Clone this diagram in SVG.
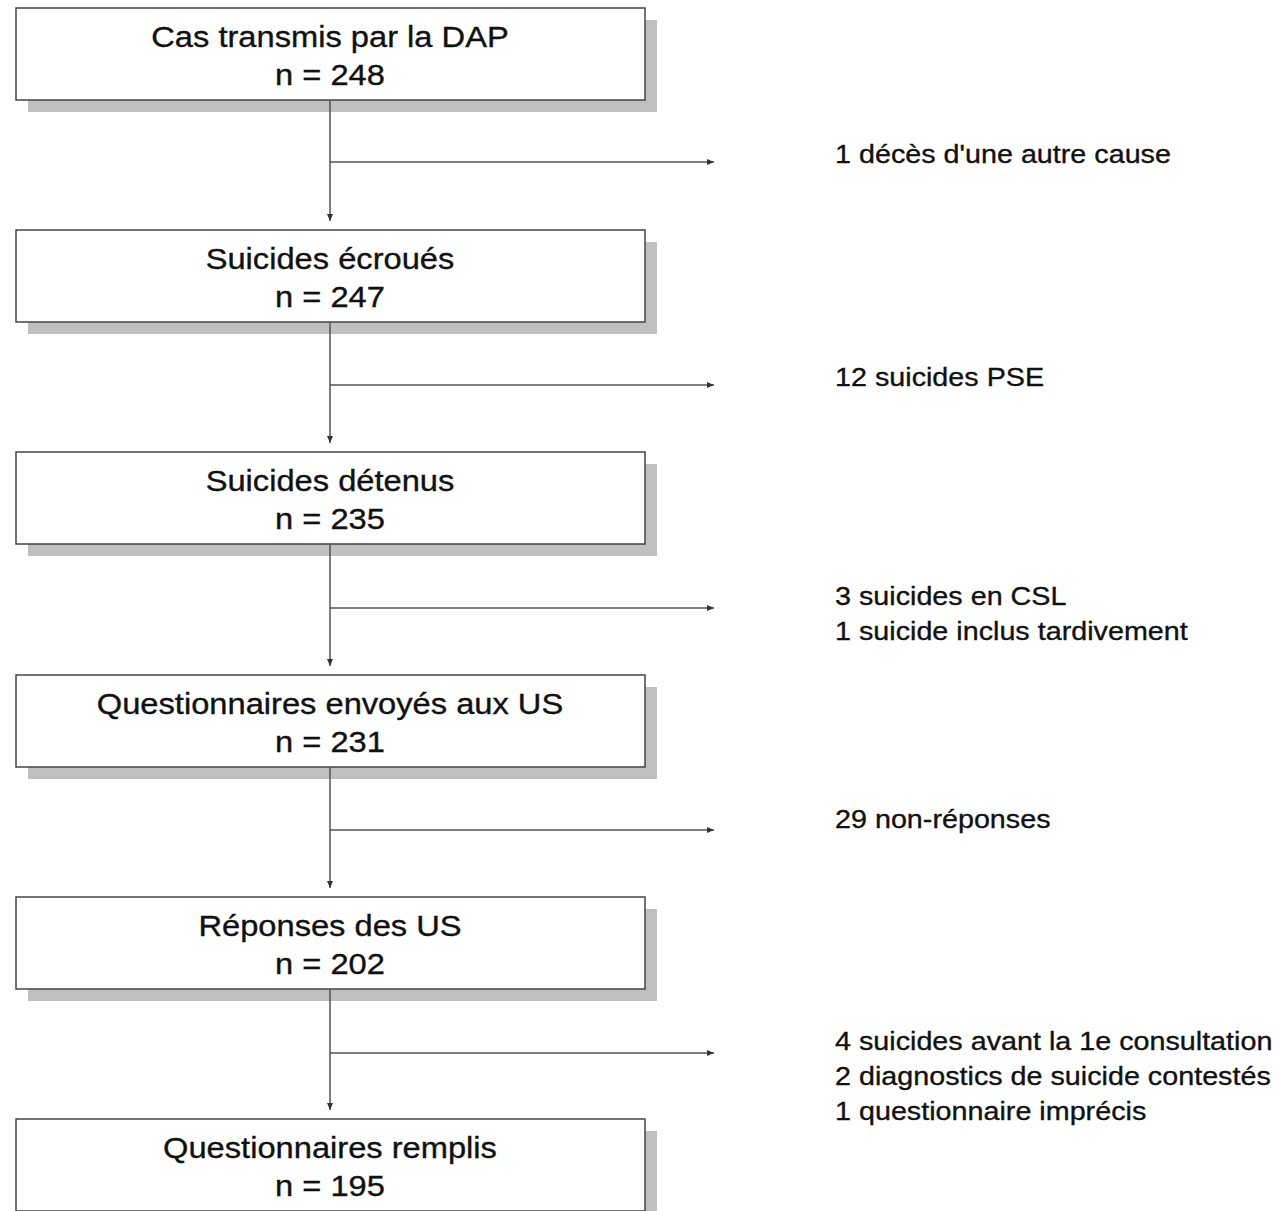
<svg xmlns="http://www.w3.org/2000/svg" width="1281" height="1211" viewBox="0 0 1281 1211">
<defs>
<style>
.box{fill:#fff;stroke:#444;stroke-width:1.5}
.sh{fill:#c0c0c0}
.t{font-family:"Liberation Sans",Arial,sans-serif;font-size:29px;fill:#111;stroke:#111;stroke-width:0.35;text-anchor:middle}
.r{font-family:"Liberation Sans",Arial,sans-serif;font-size:26.5px;fill:#111;stroke:#111;stroke-width:0.35}
.ln{stroke:#555;stroke-width:1.5;fill:none}
</style>
<marker id="ah" markerWidth="8" markerHeight="8" refX="7" refY="4" orient="auto" markerUnits="userSpaceOnUse">
<path d="M0,1 L7,4 L0,7 Z" fill="#333"/>
</marker>
</defs>
<rect width="1281" height="1211" fill="#fff"/>
<g id="n1"><rect class="sh" x="28" y="20" width="629" height="92"/><rect class="box" x="16" y="8" width="629" height="92"/><g transform="translate(330,0) scale(1.126,1)"><text class="t" x="0" y="47">Cas transmis par la DAP</text><text class="t" x="0" y="85">n = 248</text></g></g>
<g id="n2"><rect class="sh" x="28" y="242" width="629" height="92"/><rect class="box" x="16" y="230" width="629" height="92"/><g transform="translate(330,0) scale(1.126,1)"><text class="t" x="0" y="269">Suicides écroués</text><text class="t" x="0" y="307">n = 247</text></g></g>
<g id="n3"><rect class="sh" x="28" y="464" width="629" height="92"/><rect class="box" x="16" y="452" width="629" height="92"/><g transform="translate(330,0) scale(1.126,1)"><text class="t" x="0" y="491">Suicides détenus</text><text class="t" x="0" y="529">n = 235</text></g></g>
<g id="n4"><rect class="sh" x="28" y="687" width="629" height="92"/><rect class="box" x="16" y="675" width="629" height="92"/><g transform="translate(330,0) scale(1.126,1)"><text class="t" x="0" y="714">Questionnaires envoyés aux US</text><text class="t" x="0" y="752">n = 231</text></g></g>
<g id="n5"><rect class="sh" x="28" y="909" width="629" height="92"/><rect class="box" x="16" y="897" width="629" height="92"/><g transform="translate(330,0) scale(1.126,1)"><text class="t" x="0" y="936">Réponses des US</text><text class="t" x="0" y="974">n = 202</text></g></g>
<g id="n6"><rect class="sh" x="28" y="1131" width="629" height="92"/><rect class="box" x="16" y="1119" width="629" height="92"/><g transform="translate(330,0) scale(1.126,1)"><text class="t" x="0" y="1158">Questionnaires remplis</text><text class="t" x="0" y="1196">n = 195</text></g></g>
<g id="connectors">
<line class="ln" x1="330" y1="100" x2="330" y2="221" marker-end="url(#ah)"/>
<line class="ln" x1="330" y1="162" x2="714" y2="162" marker-end="url(#ah)"/>
<line class="ln" x1="330" y1="322" x2="330" y2="443" marker-end="url(#ah)"/>
<line class="ln" x1="330" y1="385" x2="714" y2="385" marker-end="url(#ah)"/>
<line class="ln" x1="330" y1="544" x2="330" y2="666" marker-end="url(#ah)"/>
<line class="ln" x1="330" y1="608" x2="714" y2="608" marker-end="url(#ah)"/>
<line class="ln" x1="330" y1="767" x2="330" y2="888" marker-end="url(#ah)"/>
<line class="ln" x1="330" y1="830" x2="714" y2="830" marker-end="url(#ah)"/>
<line class="ln" x1="330" y1="989" x2="330" y2="1110" marker-end="url(#ah)"/>
<line class="ln" x1="330" y1="1053" x2="714" y2="1053" marker-end="url(#ah)"/>
</g>
<g id="labels" transform="translate(835,0) scale(1.084,1)">
<text class="r" x="0" y="163">1 décès d'une autre cause</text>
<text class="r" x="0" y="386">12 suicides PSE</text>
<text class="r" x="0" y="605">3 suicides en CSL</text>
<text class="r" x="0" y="640">1 suicide inclus tardivement</text>
<text class="r" x="0" y="828">29 non-réponses</text>
<text class="r" x="0" y="1050">4 suicides avant la 1e consultation</text>
<text class="r" x="0" y="1085">2 diagnostics de suicide contestés</text>
<text class="r" x="0" y="1120">1 questionnaire imprécis</text>
</g>
</svg>
